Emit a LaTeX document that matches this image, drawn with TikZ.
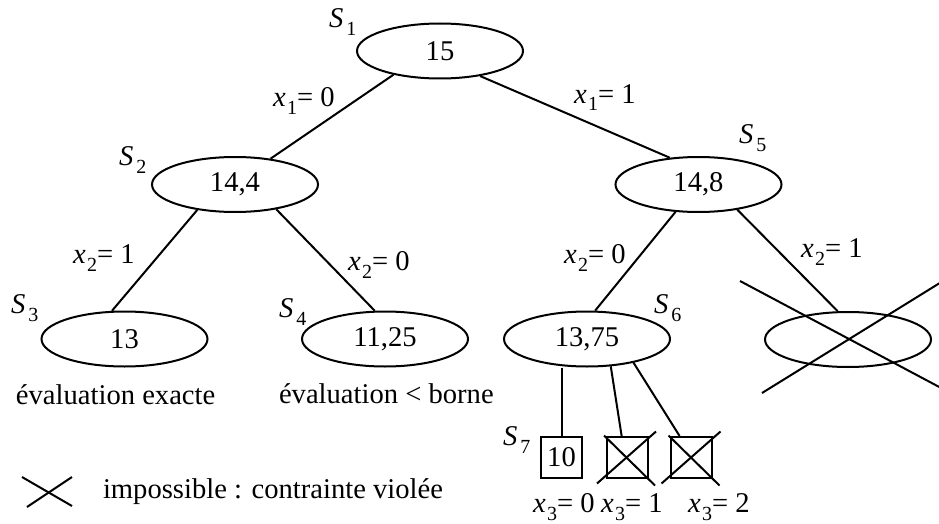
\documentclass[tikz,border=0pt]{standalone}
\usepackage{fontspec}
\setmainfont{Liberation Serif}
\usetikzlibrary{shapes.geometric,calc}
% subscripted names such as S_1 and branch labels such as x_1= 0
\newcommand{\subsz}{\fontsize{20}{20}\selectfont}
\newcommand{\sname}[2]{\textit{#1}\hspace{3pt}\raisebox{-8pt}{\subsz #2}}
\newcommand{\branch}[3]{\textit{#1}\hspace{1.5pt}\raisebox{-8pt}{\subsz #2}= #3}
\begin{document}
\begin{tikzpicture}[x=1pt,y=-1pt,line width=2pt,
  every node/.style={font=\fontsize{28.6}{34}\selectfont},
  st/.style={ellipse,draw,minimum width=166pt,minimum height=55pt,inner sep=0pt},
  leaf/.style={rectangle,draw,minimum size=41pt,inner sep=0pt},
  lab/.style={anchor=base west,inner sep=0pt}]
\useasboundingbox (0,0) rectangle (939,524);

% tree nodes
\node[st] (s1) at (440,51) {15};
\node[st] (s2) at (235,184.5) {14,4};
\node[st] (s5) at (698.5,184.5) {14,8};
\node[st] (s3) at (124.5,339) {13};
\node[st] (s4) at (385,339) {11,25};
\node[st] (s6) at (587,339) {13,75};
\node[st] (sx) at (848,339.5) {};
\node[leaf] (q1) at (561.5,457.5) {10};
\node[leaf] (q2) at (627,457.5) {};
\node[leaf] (q3) at (691.5,457.5) {};

% branches
\draw (s1.207) -- (s2.36);
\draw (s1.-32) -- (s5.137);
\draw (s2.214) -- (s3.114);
\draw (s2.-31) -- (s4.110);
\draw (s5.230) -- (s6.74);
\draw (s5.-33) -- (sx.110);
\draw (s6.south -| q1.north) -- (q1.north);
\draw (s6.-49) -- (q2.104);
\draw (s6.-27) -- (q3.119);

% crossed-out (infeasible) nodes
\draw ($(sx)+(-108,-58.5)$) -- ($(sx)+(95,49.5)$);
\draw ($(sx)+(-86,53.5)$) -- ($(sx)+(95,-58.5)$);
\foreach \q in {q2,q3} {
  \draw ($(\q)+(-30,26)$) -- ($(\q)+(29,-26)$);
  \draw ($(\q)+(-23,-22)$) -- ($(\q)+(28,28)$);
}

% node names
\node[lab] (n1) at (328,28) {\sname{S}{1}};
\node[lab] (n2) at (118,165) {\sname{S}{2}};
\node[lab] (n3) at (10,313) {\sname{S}{3}};
\node[lab] (n4) at (278,317) {\sname{S}{4}};
\node[lab] (n5) at (738,143) {\sname{S}{5}};
\node[lab] (n6) at (653,313) {\sname{S}{6}};
\node[lab] (n7) at (502,445) {\sname{S}{7}};

% branch labels
\node[lab] (b1) at (272,107) {\branch{x}{1}{0}};
\node[lab] (b2) at (573,103) {\branch{x}{1}{1}};
\node[lab] (b3) at (72,263) {\branch{x}{2}{1}};
\node[lab] (b4) at (347,270) {\branch{x}{2}{0}};
\node[lab] (b5) at (563,263) {\branch{x}{2}{0}};
\node[lab] (b6) at (800,257) {\branch{x}{2}{1}};
\node[lab] (b7) at (532,512) {\branch{x}{3}{0}};
\node[lab] (b8) at (600,512) {\branch{x}{3}{1}};
\node[lab] (b9) at (687,512) {\branch{x}{3}{2}};

% comments under the leaves
\node[lab] (c1) at (15,404) {évaluation exacte};
\node[lab] (c2) at (278,403) {évaluation < borne};

% legend
\draw (27,507) -- (72,477);
\draw (22,477) -- (72,506);
\node[lab] (leg) at (102,498) {impossible : contrainte violée};
\end{tikzpicture}
\end{document}
